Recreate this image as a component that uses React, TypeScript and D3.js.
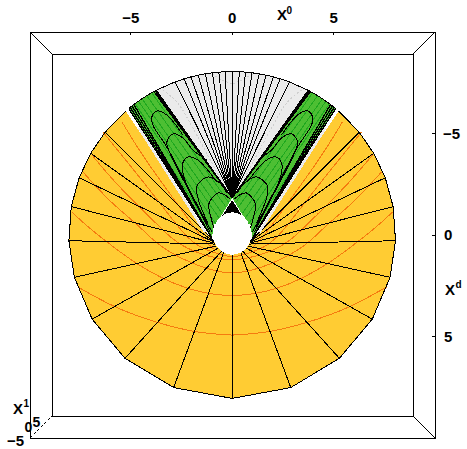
import React from "react"
import * as d3 from "d3"

const width = 467
const height = 449

// tick labels
const ticks = [-5, 0, 5]

// everything below is in X units, left half only, right half is the mirror
const outerR = 8.05

// yellow fan, degrees from straight down
const spokeOuter = [0, 21, 41, 59, 75, 88, 100, 110.5, 120, 129]
const spokeInner = [0, 26, 33, 47, 55, 62, 65, 68, 70, 72]
const yellowEdge = 139.3
const holeR = 0.95

// orange contours
const orangeX = [
  [-7.6, -5.78, -3.71, -1.74, 0],
  [-7.9, -7.01, -5.78, -4.79, -3.41, -2.18, -1.1, 0],
  [-7.35, -6.02, -4.94, -4.4, -3.56, -2.08, -0.75, 0],
  [-6.91, -5.68, -4.05, -2.82, -1.59, -0.61, 0],
  [-6.37, -5.04, -3.56, -2.18, -1.34, -0.36, 0],
  [-5.43, -4.4, -2.23, -1.44, -0.85],
]
const orangeY = [
  [2.56, 3.6, 4.33, 4.83, 4.93],
  [-1.13, -0.3, 0.64, 1.38, 2.17, 2.66, 2.91, 3.0],
  [-3.1, -1.63, -0.74, -0.25, 0.59, 1.38, 1.82, 1.87],
  [-3.94, -2.46, -0.89, 0.39, 0.94, 1.18, 1.23],
  [-5.07, -3.45, -1.58, 0.25, 0.74, 1.03, 1.08],
  [-5.57, -3.84, -0.89, 0.25, 0.74],
]

// grey wedge, degrees from straight up
const greyRays = [0, 2.5, 4.7, 7, 9.5, 12, 14.6, 17.1, 20.5]
const greyEdge = 27.7
const apexY = -1.83
const greyContourX = [[-1.0, -0.5, 0], [-3.41, -2.72, -1.94, -0.61]]
const greyContourY = [[-7.93, -7.64, -7.44], [-7.14, -6.55, -5.27, -2.81]]
const sliverX = [-4.6, -1.34]
const sliverY = [-5.27, -0.15]

// green wedge
const greenOuter = [27.7, 30, 33, 36, 39.3]
const greenInnerX = [0, -0.51, -0.9, -1.0]
const greenInnerY = [-1.83, -0.99, -0.49, 0.15]
const greenRayOuter = [29.5, 31.5, 33.5, 35, 36.5, 38]
const greenRayStartX = [-0.16, -0.31, -0.51, -0.65, -0.8, -0.95]
const greenRayStartY = [-1.58, -1.38, -1.08, -0.84, -0.54, -0.15]
const denseLower = [39.3, 38.6, 37.8, 37]
const denseUpper = [27.7, 28.1, 28.6]

// black contours inside the green
const archX = [
  [-2.43, -3.22, -3.71, -3.96, -3.91, -3.22, -1.59, -1.0],
  [-1.25, -1.94, -2.43, -2.92, -3.22, -3.07, -1.94, -1.15],
  [-0.75, -1.69, -2.18, -2.43, -2.38, -1.44, -1.1],
  [-0.26, -0.61, -1.2, -1.74, -1.69, -1.2],
  [-0.11, -0.36, -0.7, -1.15, -1.05, -0.9],
]
const archY = [
  [-4.93, -5.91, -6.11, -5.81, -5.42, -4.33, -1.23, -0.15],
  [-3.69, -4.19, -4.78, -4.98, -4.58, -4.04, -1.82, -0.25],
  [-2.61, -3.69, -3.84, -3.55, -2.86, -0.89, -0.15],
  [-2.07, -2.56, -2.86, -2.41, -1.82, -0.59],
  [-1.77, -1.97, -2.07, -1.53, -0.89, -0.34],
]

// black wedge under the apex, and the hole
const wedgeX = [0, -0.56, 0.56]
const wedgeY = [-1.72, -0.84, -0.84]
const holeX = [0, -0.44, -0.69, -0.9, -0.85, -0.5, 0]
const holeY = [-1.12, -0.99, -0.66, -0.08, 0.41, 0.82, 0.98]

const x = d3.scaleLinear().domain([-5, 5]).range([130.7, 333.7])
const y = d3.scaleLinear().domain([-5, 5]).range([133.5, 336.5])

const rad = (d: number) => (d * Math.PI) / 180
const fromDown = (a: number, r: number): [number, number] => [-r * Math.sin(rad(a)), r * Math.cos(rad(a))]
const fromUp = (a: number, r: number): [number, number] => [-r * Math.sin(rad(a)), -r * Math.cos(rad(a))]
const zip = (xs: number[], ys: number[]) => xs.map((v, i) => [v, ys[i]] as [number, number])
const mirror = (p: [number, number][]) => p.map(([a, b]) => [-a, b] as [number, number])

const straight = d3.line<[number, number]>().x(d => x(d[0])).y(d => y(d[1]))
const smooth = d3.line<[number, number]>().x(d => x(d[0])).y(d => y(d[1])).curve(d3.curveCatmullRom)
const soft = d3.line<[number, number]>().x(d => x(d[0])).y(d => y(d[1])).curve(d3.curveBasis)
const closedSmooth = d3.line<[number, number]>().x(d => x(d[0])).y(d => y(d[1])).curve(d3.curveCatmullRomClosed)

const sides = [1, -1]
const flip = (p: [number, number][], s: number) => (s === 1 ? p : mirror(p))

const yellowTips: [number, number][] = [...spokeOuter, yellowEdge].map(a => fromDown(a, outerR))
const yellowPoly: [number, number][] = [
  ...yellowTips,
  [-0.95, 0.35],
  [0, 0],
  [0.95, 0.35],
  ...mirror(yellowTips).reverse(),
]
const greyArc: [number, number][] = [greyEdge, ...[...greyRays].reverse()].map(a => fromUp(a, outerR))
const greyPoly: [number, number][] = [...greyArc, ...mirror(greyArc).reverse(), [0, apexY]]
const greenFill: [number, number][] = [...greenOuter.map(a => fromUp(a, outerR)), ...zip(greenInnerX, greenInnerY).reverse()]
const greenTip = zip(greenInnerX, greenInnerY)[3]
const holeLeft = zip(holeX, holeY)
const holeOutline: [number, number][] = [...holeLeft, ...mirror(holeLeft).slice(1, -1).reverse()]

const labelFont = { fontFamily: "Liberation Sans", fontWeight: 700 }

export default function App() {
  const box = { l: 30, t: 32, r: 435, b: 438 }
  const inner = { l: 52, t: 54, r: 413, b: 416 }
  return (
    <svg width={width} height={height} style={{ position: "absolute", left: 0, top: 0, background: "#fff" }}>
      <g shapeRendering="crispEdges">
        {/* box */}
        <rect x={box.l} y={box.t} width={box.r - box.l} height={box.b - box.t} fill="none" stroke="#000" />
        <rect x={inner.l} y={inner.t} width={inner.r - inner.l} height={inner.b - inner.t} fill="none" stroke="#000" />
        <line x1={box.l} y1={box.t} x2={inner.l} y2={inner.t} stroke="#000" />
        <line x1={box.r} y1={box.t} x2={inner.r} y2={inner.t} stroke="#000" />
        <line x1={box.r} y1={box.b} x2={inner.r} y2={inner.b} stroke="#000" />
        <line x1={box.l} y1={box.b} x2={inner.l} y2={inner.b} stroke="#000" strokeDasharray="3 2" />
        {ticks.map(t => (
          <g key={t}>
            <line x1={x(t)} x2={x(t)} y1={box.t} y2={box.t + 3} stroke="#000" />
            <line x1={box.r - 3} x2={box.r} y1={y(t)} y2={y(t)} stroke="#000" />
          </g>
        ))}

        {/* yellow fan */}
        <path d={straight(yellowPoly) + "Z"} fill="#FFCC33" stroke="none" />
        {sides.map(s => (
          <g key={s}>
            {orangeX.map((xs, i) => (
              <path key={i} d={soft(flip(zip(xs, orangeY[i]), s)) ?? ""} fill="none" stroke="#F57A0F" />
            ))}
            <path d={straight(flip(yellowTips, s)) ?? ""} fill="none" stroke="#000" />
            {spokeOuter.map((a, i) => (
              <path key={a} d={straight(flip([fromDown(spokeInner[i], holeR), fromDown(a, outerR)], s)) ?? ""} stroke="#000" fill="none" />
            ))}
          </g>
        ))}

        {/* grey wedge */}
        <path d={straight(greyPoly) + "Z"} fill="#EBEBEB" stroke="none" />
        {sides.map(s => (
          <g key={s}>
            {greyContourX.map((xs, i) => (
              <path key={i} d={smooth(flip(zip(xs, greyContourY[i]), s)) ?? ""} fill="none" stroke="#CFCFCF" strokeDasharray="2 2" />
            ))}
            <path d={straight(flip(greyArc, s)) ?? ""} fill="none" stroke="#000" />
            {greyRays.map(a => (
              <path key={a} d={straight(flip([[0, apexY], fromUp(a, outerR)], s)) ?? ""} stroke="#000" fill="none" />
            ))}
            <path d={straight(flip(zip(sliverX, sliverY), s)) ?? ""} stroke="#EBEBEB" strokeWidth={2.5} fill="none" />
          </g>
        ))}

        {/* green wedges */}
        {sides.map(s => (
          <g key={s}>
            <path d={straight(flip(greenFill, s)) + "Z"} fill="#4DBF33" stroke="none" />
            {greenRayOuter.map((a, i) => (
              <path key={a} d={straight(flip([[greenRayStartX[i], greenRayStartY[i]], fromUp(a, outerR)], s)) ?? ""} stroke="#1FA81F" fill="none" />
            ))}
            {archX.map((xs, i) => (
              <path key={i} d={smooth(flip(zip(xs, archY[i]), s)) ?? ""} fill="none" stroke="#000" />
            ))}
            {denseLower.map(a => (
              <path key={a} d={straight(flip([greenTip, fromUp(a, outerR)], s)) ?? ""} stroke="#000" strokeWidth={1.3} fill="none" />
            ))}
            {denseUpper.map(a => (
              <path key={a} d={straight(flip([[0, apexY], fromUp(a, outerR)], s)) ?? ""} stroke="#000" strokeWidth={1.3} fill="none" />
            ))}
            <path d={straight(flip(greenOuter.map(a => fromUp(a, outerR)), s)) ?? ""} fill="none" stroke="#000" />
          </g>
        ))}

        <path d={straight(zip(wedgeX, wedgeY)) + "Z"} fill="#000" />
        <path d={closedSmooth(holeOutline) ?? ""} fill="#fff" stroke="none" />
      </g>

      {/* labels */}
      <g {...labelFont} fontSize={15} fill="#000">
        {ticks.map(t => (
          <text key={t} x={x(t)} y={23} textAnchor="middle">{t < 0 ? "\u2212" + -t : t}</text>
        ))}
        {ticks.map(t => (
          <text key={t} x={t < 0 ? 443 : 444} y={y(t) + 5}>{t < 0 ? "\u2212" + -t : t}</text>
        ))}
        <text x={277} y={20}>X</text>
        <text x={286.5} y={14} fontSize={10}>0</text>
        <text x={445} y={295}>X</text>
        <text x={455.5} y={288} fontSize={10}>d</text>
        <text x={13} y={414}>X</text>
        <text x={23.5} y={407} fontSize={10}>1</text>
        <text x={7} y={446}>{"\u2212"}5</text>
        <text x={24.5} y={432} fontSize={14}>0</text>
        <text x={32.5} y={426.5} fontSize={14}>5</text>
      </g>
    </svg>
  )
}
